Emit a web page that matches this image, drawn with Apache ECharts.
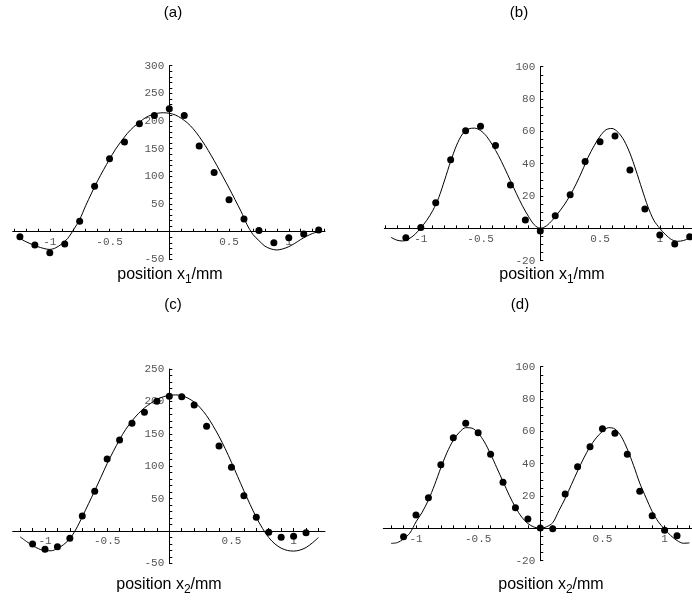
<!DOCTYPE html>
<html>
<head>
<meta charset="utf-8">
<script src="https://cdn.jsdelivr.net/npm/echarts@6/dist/echarts.min.js"></script>
<style>
  html, body { margin: 0; padding: 0; background: #fff; }
  #chart { width: 692px; height: 606px; }
</style>
</head>
<body>
<div id="chart"></div>
<script>
// Measured points (dots), positions in mm
const xDotsTop = [-1.25, -1.125, -1.0, -0.875, -0.75, -0.625, -0.5, -0.375, -0.25, -0.125, 0,
                  0.125, 0.25, 0.375, 0.5, 0.625, 0.75, 0.875, 1.0, 1.125, 1.25];
const aDots = [-9, -24, -38, -22, 19, 82, 132, 162, 195, 210, 222,
               210, 155, 107, 58, 23, 2, -20, -11, -4, 3];
const xDotsB = [-1.125, -1.0, -0.875, -0.75, -0.625, -0.5, -0.375, -0.25, -0.125, 0,
                0.125, 0.25, 0.375, 0.5, 0.625, 0.75, 0.875, 1.0, 1.125, 1.25];
const bDots = [-5.8, 0.6, 15.9, 42.5, 60.4, 63.1, 51.3, 26.8, 5.2, -1.6,
               7.8, 20.8, 41.4, 53.6, 57.1, 36.1, 12, -4.1, -9.7, -5.2];
const xDotsBottom = [-1.1, -1.0, -0.9, -0.8, -0.7, -0.6, -0.5, -0.4, -0.3, -0.2, -0.1, 0,
                     0.1, 0.2, 0.3, 0.4, 0.5, 0.6, 0.7, 0.8, 0.9, 1.0, 1.1];
const cDots = [-20, -28.3, -24.2, -11.3, 23.1, 61.2, 111.1, 140.4, 166.2, 183.1, 200.1, 207.8,
               207.3, 194.4, 161.5, 131.2, 98.3, 54.5, 21.1, -2, -9.8, -8.2, -2.6];
const dDots = [-5.2, 8.2, 19, 39.4, 56.1, 65, 59.2, 45.8, 28.5, 12.8, 5.8, 0.2,
               -0.2, 21.2, 38.1, 50.5, 61.6, 58.8, 45.8, 22.9, 7.8, -1.2, -4.5];

// Fitted curves
const xCurveA = [-1.25, -1.2, -1.1, -1.0, -0.95, -0.9, -0.85, -0.8, -0.75, -0.7, -0.65, -0.6, -0.55, -0.5,
                 -0.45, -0.4, -0.35, -0.3, -0.25, -0.2, -0.15, -0.1, -0.05, 0, 0.05, 0.1, 0.15, 0.2,
                 0.25, 0.3, 0.35, 0.4, 0.45, 0.5, 0.55, 0.6, 0.65, 0.7, 0.75, 0.8, 0.85, 0.9, 0.95,
                 1.0, 1.05, 1.1, 1.15, 1.2, 1.25];
const aCurve = [-12, -18, -27, -32, -29, -22, -12, 4, 22, 47, 70, 92, 112, 131,
                149, 164, 178, 189, 198, 206, 211, 214, 215, 214, 211, 205, 197, 186,
                172, 156, 138, 119, 99, 79, 58, 37, 13, -5, -16, -26, -31, -33, -31,
                -27, -21, -14, -8, -3, 0];
const xCurveB = [-1.25, -1.2, -1.15, -1.1, -1.05, -1.0, -0.95, -0.9, -0.85, -0.8, -0.75, -0.7, -0.65,
                 -0.6, -0.55, -0.5, -0.45, -0.4, -0.35, -0.3, -0.25, -0.2, -0.15, -0.1, -0.05, 0,
                 0.05, 0.1, 0.15, 0.2, 0.25, 0.3, 0.35, 0.4, 0.45, 0.5, 0.55, 0.6, 0.65, 0.7, 0.75,
                 0.8, 0.85, 0.9, 0.95, 1.0, 1.05, 1.1, 1.15, 1.2, 1.25, 1.3];
const bCurve = [-5.5, -7.3, -7.8, -6.5, -3.8, 0.3, 5, 11, 19, 30, 41.5, 51.5, 58.5,
                61.5, 62, 60.5, 57, 51.5, 45, 37.5, 29.5, 21.5, 14, 7.5, 2.2, 0,
                1.5, 5, 9.5, 14.5, 20.5, 27.5, 35.5, 44, 51, 57, 61, 61.8, 59.5, 54.5, 46.5,
                36, 24.5, 13.5, 5, 0, -4, -7, -8, -7.5, -6, -4.5];
const xCurveBottom = [-1.2, -1.15, -1.1, -1.05, -1.0, -0.95, -0.9, -0.85, -0.8, -0.75, -0.7, -0.65,
                      -0.6, -0.55, -0.5, -0.45, -0.4, -0.35, -0.3, -0.25, -0.2, -0.15, -0.1, -0.05, 0,
                      0.05, 0.1, 0.15, 0.2, 0.25, 0.3, 0.35, 0.4, 0.45, 0.5, 0.55, 0.6, 0.65, 0.7,
                      0.75, 0.8, 0.85, 0.9, 0.95, 1.0, 1.05, 1.1, 1.15, 1.2];
const cCurve = [-9, -16, -22.5, -27.5, -30.5, -30.5, -27, -21, -12, 3, 22, 42,
                62, 83, 104, 123, 141, 157, 170, 181, 190, 197, 203, 207, 209.5,
                210, 209, 205, 199, 190, 178, 163, 146, 127, 106, 84, 62, 41, 21,
                4, -10, -20, -26.5, -30, -31, -29.5, -25.5, -18.5, -10];
const dCurve = [-9.3, -8.8, -6.5, -3, 4, 10, 17.5, 27, 37.5, 47, 54.5, 59.5,
                62.3, 62, 59, 53.5, 46, 37.5, 29, 20.5, 13, 7, 3, 0.8, 0,
                1, 3.5, 11, 18.5, 27, 35.5, 43.5, 50.5, 56, 60, 62.3, 61.5, 57, 49,
                39, 28, 19, 10.5, 4, -0.5, -4.5, -7.5, -9.2, -9];

// Tick positions and labels
const xTickVals = [-1.3, -1.2, -1.1, -1.0, -0.9, -0.8, -0.7, -0.6, -0.5, -0.4, -0.3, -0.2, -0.1,
                   0.1, 0.2, 0.3, 0.4, 0.5, 0.6, 0.7, 0.8, 0.9, 1.0, 1.1, 1.2, 1.3];
const xLabelVals = [-1, -0.5, 0.5, 1];
const yTicksA = [-50, -40, -30, -20, -10, 10, 20, 30, 40, 50, 60, 70, 80, 90, 100, 110, 120, 130, 140,
                 150, 160, 170, 180, 190, 200, 210, 220, 230, 240, 250, 260, 270, 280, 290, 300];
const yLabelsA = [-50, 50, 100, 150, 200, 250, 300];
const yTicksC = [-50, -40, -30, -20, -10, 10, 20, 30, 40, 50, 60, 70, 80, 90, 100, 110, 120, 130, 140,
                 150, 160, 170, 180, 190, 200, 210, 220, 230, 240, 250];
const yLabelsC = [-50, 50, 100, 150, 200, 250];
const yTicksBD = [-20, -15, -10, -5, 5, 10, 15, 20, 25, 30, 35, 40, 45, 50, 55, 60, 65, 70, 75,
                  80, 85, 90, 95, 100];
const yLabelsBD = [-20, 20, 40, 60, 80, 100];

const panelTitles = ['(a)', '(b)', '(c)', '(d)'];
const axisNames = ['1', '1', '2', '2'];

// Panel frames: grid rectangles and axis ranges
const grids = [
  { left: 12.7, top: 65.7, width: 312.3, height: 193.7 },
  { left: 384.3, top: 66.7, width: 312, height: 194 },
  { left: 12.7, top: 369, width: 312.3, height: 194.4 },
  { left: 383.3, top: 366.7, width: 314, height: 194 }
];
const xRanges = [[-1.3105, 1.303], [-1.3054, 1.3054], [-1.2598, 1.2526], [-1.263, 1.263]];
const yRanges = [[-50, 300], [-20, 100], [-50, 250], [-20, 100]];

const labelStyle = { color: '#555', fontFamily: 'Liberation Mono', fontSize: 11 };
const black = '#000';

// Axes cross at the origin: shift each axis from the grid edge to the zero position
function makeX(i) {
  const [min, max] = xRanges[i];
  const [ymin, ymax] = yRanges[i];
  const off = -(0 - ymin) / (ymax - ymin) * grids[i].height;
  return {
    gridIndex: i, type: 'value', min: min, max: max, position: 'bottom', offset: off,
    axisLine: { onZero: false, lineStyle: { color: black, width: 1 } },
    axisTick: { show: true, inside: true, length: 3, customValues: xTickVals, lineStyle: { color: black } },
    axisLabel: Object.assign({ customValues: xLabelVals, margin: 5, formatter: v => String(v) }, labelStyle),
    splitLine: { show: false }
  };
}
function makeY(i, ticks, labels) {
  const [min, max] = yRanges[i];
  const [xmin, xmax] = xRanges[i];
  const off = -(0 - xmin) / (xmax - xmin) * grids[i].width;
  return {
    gridIndex: i, type: 'value', min: min, max: max, position: 'left', offset: off,
    axisLine: { onZero: false, lineStyle: { color: black, width: 1 } },
    axisTick: { show: true, inside: true, length: 3, customValues: ticks, lineStyle: { color: black } },
    axisLabel: Object.assign({ customValues: labels, margin: 5, formatter: v => String(v) }, labelStyle),
    splitLine: { show: false }
  };
}
function pairs(xs, ys) { return xs.map((x, k) => [x, ys[k]]); }
function dots(i, xs, ys) {
  return { type: 'scatter', xAxisIndex: i, yAxisIndex: i, data: pairs(xs, ys),
           symbol: 'circle', symbolSize: 7, itemStyle: { color: black, opacity: 1 }, z: 3 };
}
function curve(i, xs, ys) {
  return { type: 'line', xAxisIndex: i, yAxisIndex: i, data: pairs(xs, ys),
           showSymbol: false, smooth: 0.3, lineStyle: { color: black, width: 1 }, z: 2 };
}
function title(text, x, y) {
  return { type: 'text', x: x, y: y,
           style: { text: text, align: 'center', verticalAlign: 'middle',
                    font: '15px "Liberation Sans"', fill: '#000' } };
}
function axisName(sub, x, y) {
  return { type: 'text', x: x, y: y,
           style: { text: '{m|position x}{s|' + sub + '}{m|/mm}', align: 'center', verticalAlign: 'middle',
                    rich: {
                      m: { fontFamily: 'Liberation Sans', fontSize: 16, lineHeight: 22, color: '#000', verticalAlign: 'middle' },
                      s: { fontFamily: 'Liberation Sans', fontSize: 12, lineHeight: 12, color: '#000', verticalAlign: 'bottom' }
                    } } };
}

const chart = echarts.init(document.getElementById('chart'), null, { renderer: 'canvas' });
chart.setOption({
  backgroundColor: '#fff',
  animation: false,
  grid: grids.map(g => Object.assign({ containLabel: false, outerBoundsMode: 'none' }, g)),
  xAxis: [makeX(0), makeX(1), makeX(2), makeX(3)],
  yAxis: [
    makeY(0, yTicksA, yLabelsA),
    makeY(1, yTicksBD, yLabelsBD),
    makeY(2, yTicksC, yLabelsC),
    makeY(3, yTicksBD, yLabelsBD)
  ],
  series: [
    curve(0, xCurveA, aCurve), dots(0, xDotsTop, aDots),
    curve(1, xCurveB, bCurve), dots(1, xDotsB, bDots),
    curve(2, xCurveBottom, cCurve), dots(2, xDotsBottom, cDots),
    curve(3, xCurveBottom, dCurve), dots(3, xDotsBottom, dDots)
  ],
  graphic: [
    title(panelTitles[0], 173, 13), title(panelTitles[1], 519, 13),
    title(panelTitles[2], 173, 305), title(panelTitles[3], 520, 305),
    axisName(axisNames[0], 170, 275), axisName(axisNames[1], 552, 275),
    axisName(axisNames[2], 169, 585), axisName(axisNames[3], 551, 585)
  ]
});
</script>
</body>
</html>
